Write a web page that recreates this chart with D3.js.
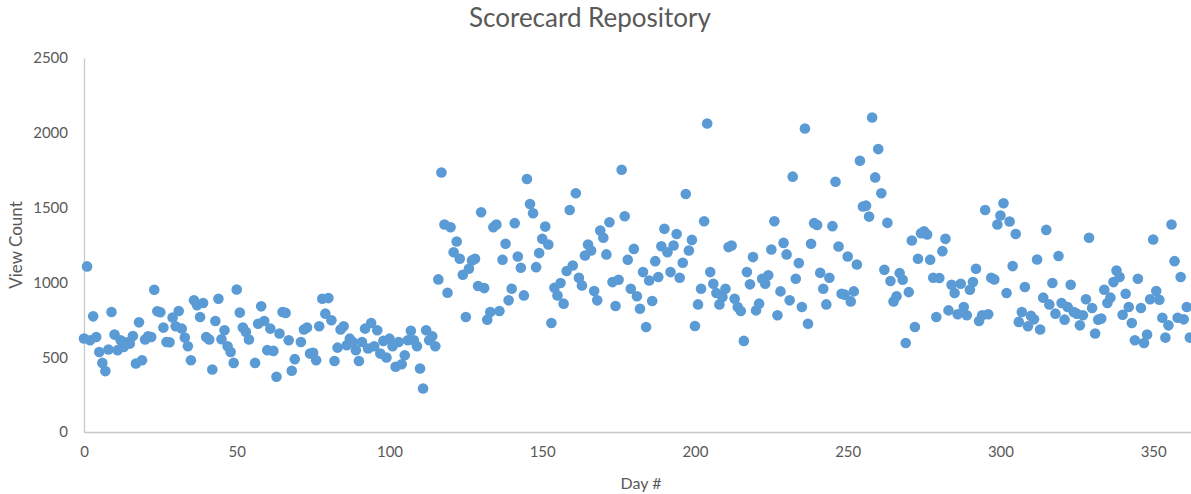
<!DOCTYPE html>
<html>
<head>
<meta charset="utf-8">
<title>Scorecard Repository</title>
<script src="https://d3js.org/d3.v7.min.js"></script>
<style>
  body { margin: 0; background: #fff; }
  svg { display: block; font-family: Lato, "Open Sans", sans-serif; }
</style>
</head>
<body>
<svg id="chart" width="1191" height="494"></svg>
<script>
// values
const days = [
  0,1,2,3,4,5,6,7,8,9,10,11,12,13,14,15,16,17,18,19,20,21,22,23,24,25,26,27,28,29,
  30,31,32,33,34,35,36,37,38,39,40,41,42,43,44,45,46,47,48,49,50,51,52,53,54,56,57,58,59,
  60,61,62,63,64,65,66,67,68,69,71,72,73,74,75,76,77,78,79,80,81,82,83,84,85,86,87,88,89,
  90,91,92,93,94,95,96,97,98,99,100,101,102,103,104,105,106,107,108,109,110,111,112,113,114,115,116,117,118,119,
  120,121,122,123,124,125,126,127,128,129,130,131,132,133,134,135,136,137,138,139,140,141,142,143,144,145,146,147,148,149,
  150,151,152,153,154,155,156,157,158,159,160,161,162,163,164,165,166,167,168,169,170,171,172,173,174,175,176,177,178,179,
  180,181,182,183,184,185,186,187,188,189,190,191,192,193,194,195,196,197,198,199,200,201,202,203,204,205,206,207,208,209,
  210,211,212,213,214,215,216,217,218,219,220,221,222,223,224,225,226,227,228,229,230,231,232,233,234,235,236,237,238,239,
  240,241,242,243,244,245,246,247,248,249,250,251,252,253,254,255,256,257,258,259,260,261,262,263,264,265,266,267,268,269,
  270,271,272,273,274,275,276,277,278,279,280,281,282,283,284,285,286,287,288,289,290,291,292,293,294,295,296,297,298,299,
  300,301,302,303,304,305,306,307,308,309,310,311,312,313,314,315,316,317,318,319,320,321,322,323,324,325,326,327,328,329,
  330,331,332,333,334,335,336,337,338,339,340,341,342,343,344,345,346,347,348,349,350,351,352,353,354,355,356,357,358,359,
  360,361,362
];
const views = [
  625,1107,613,773,635,535,462,407,551,802,651,547,613,569,600,591,642,458,733,480,618,640,635,951,807,800,698,602,600,765,
  707,809,691,631,573,480,880,847,769,862,635,618,418,742,891,620,680,573,535,462,953,798,698,669,618,462,724,840,742,
  547,691,542,369,658,802,796,613,409,487,602,685,698,524,529,480,707,891,791,895,747,475,564,685,707,580,624,602,547,
  475,602,691,558,729,573,680,524,609,498,624,573,436,602,453,513,613,676,613,573,424,291,680,613,640,573,1020,1735,1387,931,
  1369,1202,1273,1158,1051,769,1091,1147,1158,976,1469,962,751,802,1369,1387,809,1151,1258,880,958,1396,1173,1098,913,1691,1524,1462,1102,1196,
  1291,1373,1253,729,964,913,996,858,1076,1484,1113,1596,1031,980,1180,1253,1213,942,880,1347,1298,1187,1402,1002,842,1018,1753,1442,1151,958,
  1224,907,824,1069,702,1013,876,1142,1036,1242,1358,1202,1069,1247,1324,1031,1131,1591,1213,1284,709,853,958,1409,2062,1069,991,929,853,902,
  958,1236,1247,891,836,809,609,1069,987,1169,813,858,1024,991,1047,1220,1409,780,940,1264,1187,880,1707,1024,1129,836,2029,724,1258,1396,
  1384,1064,958,853,1031,1376,1673,1240,924,918,1173,873,940,1120,1813,1507,1513,1440,2102,1702,1891,1596,1084,1398,1009,873,907,1062,1018,595,
  935,1280,702,1158,1329,1342,1320,1151,1031,769,1029,1209,1291,813,984,929,787,991,836,780,951,1002,1091,742,780,1484,787,1031,1020,1387,
  1447,1529,929,1407,1109,1324,736,802,969,707,776,753,1153,685,898,1351,853,996,791,1176,862,751,836,984,802,791,713,780,887,1298,
  829,658,751,758,951,862,898,1002,1080,1036,784,924,836,729,613,1024,829,595,651,887,1287,942,884,764,631,713,1387,1142,764,1036,
  753,836,631
];
const yTicks = [0, 500, 1000, 1500, 2000, 2500];
const xTicks = [0, 50, 100, 150, 200, 250, 300, 350];

const svg = d3.select("#chart");
const margin = {left: 84, top: 58},
      plotW = 1115, plotH = 374;

const x = d3.scaleLinear().domain([0, 365]).range([margin.left, margin.left + plotW]);
const y = d3.scaleLinear().domain([0, 2500]).range([margin.top + plotH, margin.top]);

// y axis
const yAxis = svg.append("g")
  .attr("transform", `translate(${margin.left},0)`)
  .call(d3.axisLeft(y).tickValues(yTicks).tickSize(0).tickPadding(16).tickFormat(d3.format("d")));
yAxis.select(".domain").attr("stroke", "#c8c8c8").attr("stroke-width", 1.3);
yAxis.selectAll("text").attr("fill", "#595959").style("font-size", "15px").style("font-family", "Lato, sans-serif");

// x axis
const xAxis = svg.append("g")
  .attr("transform", `translate(0,${margin.top + plotH})`)
  .call(d3.axisBottom(x).tickValues(xTicks).tickSize(0).tickPadding(14).tickFormat(d3.format("d")));
xAxis.select(".domain").attr("stroke", "#c8c8c8").attr("stroke-width", 1.3);
xAxis.selectAll("text").attr("fill", "#595959").style("font-size", "15px").style("font-family", "Lato, sans-serif");

// points
svg.append("g")
  .selectAll("circle")
  .data(days.map((d, i) => ({day: d, count: views[i]})))
  .join("circle")
  .attr("cx", d => x(d.day))
  .attr("cy", d => y(d.count))
  .attr("r", 5.3)
  .attr("fill", "#5b9bd5");

// title and axis labels
svg.append("text")
  .attr("x", 590).attr("y", 27)
  .attr("text-anchor", "middle")
  .attr("fill", "#595959")
  .style("font-size", "26px")
  .text("Scorecard Repository");

svg.append("text")
  .attr("x", 641).attr("y", 489)
  .attr("text-anchor", "middle")
  .attr("fill", "#595959")
  .style("font-size", "16px")
  .text("Day #");

svg.append("text")
  .attr("transform", `translate(22,${margin.top + plotH / 2}) rotate(-90)`)
  .attr("text-anchor", "middle")
  .attr("fill", "#595959")
  .style("font-size", "17px")
  .text("View Count");
</script>
</body>
</html>
